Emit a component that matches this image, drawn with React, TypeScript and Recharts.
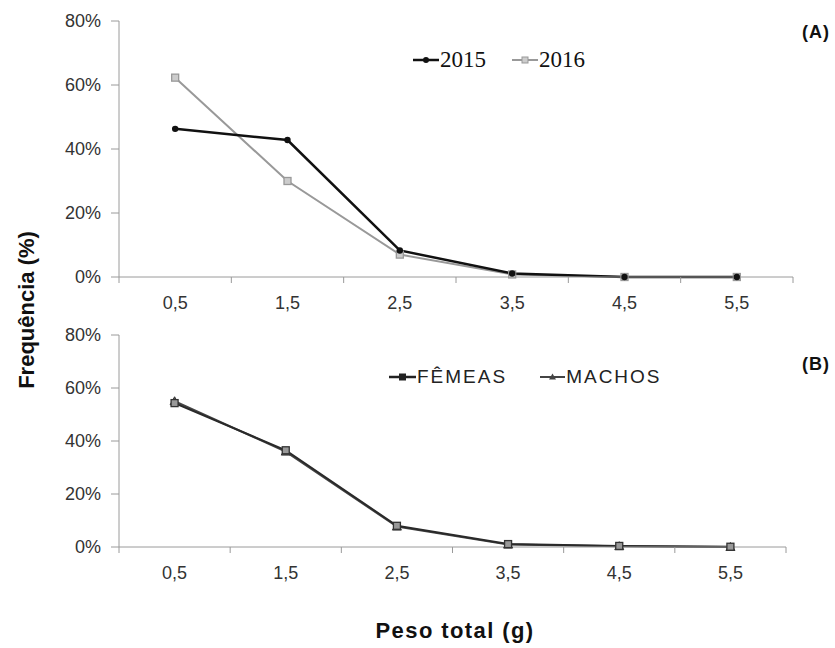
import { LineChart, Line, XAxis, YAxis, Legend } from "recharts"

const weights = [0.5, 1.5, 2.5, 3.5, 4.5, 5.5]
const freq2015 = [46.3, 42.8, 8.3, 1.1, 0, 0]
const freq2016 = [62.3, 30.0, 7.0, 0.8, 0, 0]
const freqFemeas = [54.3, 36.5, 8.0, 1.1, 0.4, 0.1]
const freqMachos = [55.0, 36.0, 7.7, 0.9, 0.3, 0]
const yTicks = [0, 20, 40, 60, 80]
const xTicks = [0, 0.5, 1, 1.5, 2, 2.5, 3, 3.5, 4, 4.5, 5, 5.5, 6]

const dataA = weights.map((w, i) => ({ x: w, a2015: freq2015[i], a2016: freq2016[i] }))
const dataB = weights.map((w, i) => ({ x: w, femeas: freqFemeas[i], machos: freqMachos[i] }))

const axisColor = "#9a9a9a"
const sans = "Arial, 'Liberation Sans', sans-serif"

const XTick = (props: any) => {
  const { x, y, payload } = props
  const v = payload.value
  if (Number.isInteger(v)) {
    return <line x1={x} x2={x} y1={y} y2={y + 6} stroke={axisColor} />
  }
  return (
    <text x={x} y={y + 32} textAnchor="middle" fontSize={18} fontFamily={sans} fill="#333">
      {String(v).replace(".", ",")}
    </text>
  )
}

const SquareDot = (stroke: string, fill: string, s: number) => (props: any) => {
  const { cx, cy, key } = props
  return <rect key={key} x={cx - s / 2} y={cy - s / 2} width={s} height={s} stroke={stroke} fill={fill} strokeWidth={1.3} />
}

const CircleDot = (props: any) => {
  const { cx, cy, key } = props
  return <circle key={key} cx={cx} cy={cy} r={3.2} fill="#111" />
}

const TriDot = (props: any) => {
  const { cx, cy, key } = props
  return <path key={key} d={`M${cx},${cy - 4.5}L${cx + 4.5},${cy + 3.5}L${cx - 4.5},${cy + 3.5}Z`} fill="#555" stroke="#333" />
}

const LegendA = () => (
  <div style={{ display: "flex", fontFamily: "'Liberation Serif', 'Times New Roman', serif", fontSize: 23, lineHeight: "24px", color: "#111" }}>
    <div style={{ display: "flex", alignItems: "center", marginRight: 25 }}>
      <svg width={28} height={12}>
        <line x1={1} x2={27} y1={6} y2={6} stroke="#111" strokeWidth={2.5} />
        <circle cx={14} cy={6} r={3} fill="#111" />
      </svg>
      <span>2015</span>
    </div>
    <div style={{ display: "flex", alignItems: "center" }}>
      <svg width={28} height={12}>
        <line x1={1} x2={27} y1={6} y2={6} stroke="#999" strokeWidth={2} />
        <rect x={11} y={3} width={6} height={6} fill="#ccc" stroke="#999" />
      </svg>
      <span>2016</span>
    </div>
  </div>
)

const LegendB = () => (
  <div style={{ display: "flex", fontFamily: sans, fontSize: 19, lineHeight: "22px", letterSpacing: 2, color: "#222" }}>
    <div style={{ display: "flex", alignItems: "center", marginRight: 32 }}>
      <svg width={29} height={12}>
        <line x1={1} x2={28} y1={6} y2={6} stroke="#222" strokeWidth={2.5} />
        <rect x={11} y={2.5} width={7} height={7} fill="#222" />
      </svg>
      <span>FÊMEAS</span>
    </div>
    <div style={{ display: "flex", alignItems: "center" }}>
      <svg width={27} height={12}>
        <line x1={1} x2={26} y1={6} y2={6} stroke="#444" strokeWidth={2} />
        <path d="M13.5,2.5L17,8.5L10,8.5Z" fill="#444" />
      </svg>
      <span>MACHOS</span>
    </div>
  </div>
)

const yTickStyle = { fontSize: 18, fontFamily: sans, fill: "#333" }
const pct = (v: number) => `${v}%`

export default function App() {
  return (
    <div style={{ position: "absolute", left: 0, top: 0, width: 835, height: 648, background: "#fff" }}>
      <div style={{ position: "absolute", left: 0, top: 0 }}>
        <LineChart width={835} height={322} data={dataA} margin={{ top: 21, right: 42, bottom: 0, left: 0 }}>
          <XAxis dataKey="x" type="number" domain={[0, 6]} ticks={xTicks} interval={0} tick={XTick} tickLine={false} tickSize={0} tickMargin={0} stroke={axisColor} height={45} />
          <YAxis domain={[0, 80]} ticks={yTicks} tickFormatter={pct} width={119} tickSize={8} tickMargin={10} stroke={axisColor} tick={yTickStyle} />
          <Legend layout="horizontal" verticalAlign="middle" content={LegendA} wrapperStyle={{ left: 412, top: 48, width: "auto" }} />
          <Line dataKey="a2016" name="2016" stroke="#999" strokeWidth={2} dot={SquareDot("#999", "#ccc", 7)} isAnimationActive={false} />
          <Line dataKey="a2015" name="2015" stroke="#111" strokeWidth={2.5} dot={CircleDot} isAnimationActive={false} />
        </LineChart>
      </div>
      <div style={{ position: "absolute", left: 0, top: 322 }}>
        <LineChart width={835} height={270} data={dataB} margin={{ top: 13, right: 49, bottom: 0, left: 0 }}>
          <XAxis dataKey="x" type="number" domain={[0, 6]} ticks={xTicks} interval={0} tick={XTick} tickLine={false} tickSize={0} tickMargin={0} stroke={axisColor} height={45} />
          <YAxis domain={[0, 80]} ticks={yTicks} tickFormatter={pct} width={119} tickSize={8} tickMargin={10} stroke={axisColor} tick={yTickStyle} />
          <Legend layout="horizontal" verticalAlign="middle" content={LegendB} wrapperStyle={{ left: 388, top: 44, width: "auto" }} />
          <Line dataKey="machos" name="MACHOS" stroke="#444" strokeWidth={2} dot={TriDot} isAnimationActive={false} />
          <Line dataKey="femeas" name="FÊMEAS" stroke="#2a2a2a" strokeWidth={2} dot={SquareDot("#333", "#999", 7)} isAnimationActive={false} />
        </LineChart>
      </div>
      <div style={{ position: "absolute", left: 802, top: 21, fontFamily: sans, fontWeight: "bold", fontSize: 18, lineHeight: "22px", letterSpacing: 1, color: "#111" }}>(A)</div>
      <div style={{ position: "absolute", left: 802, top: 353, fontFamily: sans, fontWeight: "bold", fontSize: 18, lineHeight: "22px", letterSpacing: 1, color: "#111" }}>(B)</div>
      <div style={{ position: "absolute", left: 27, top: 310, transform: "translate(-50%, -50%) rotate(-90deg)", whiteSpace: "nowrap", fontFamily: sans, fontWeight: "bold", fontSize: 22, color: "#111" }}>Frequência (%)</div>
      <div style={{ position: "absolute", left: 455, top: 631, transform: "translate(-50%, -50%)", whiteSpace: "nowrap", fontFamily: sans, fontWeight: "bold", fontSize: 22, letterSpacing: 1.4, color: "#111" }}>Peso total (g)</div>
    </div>
  )
}
